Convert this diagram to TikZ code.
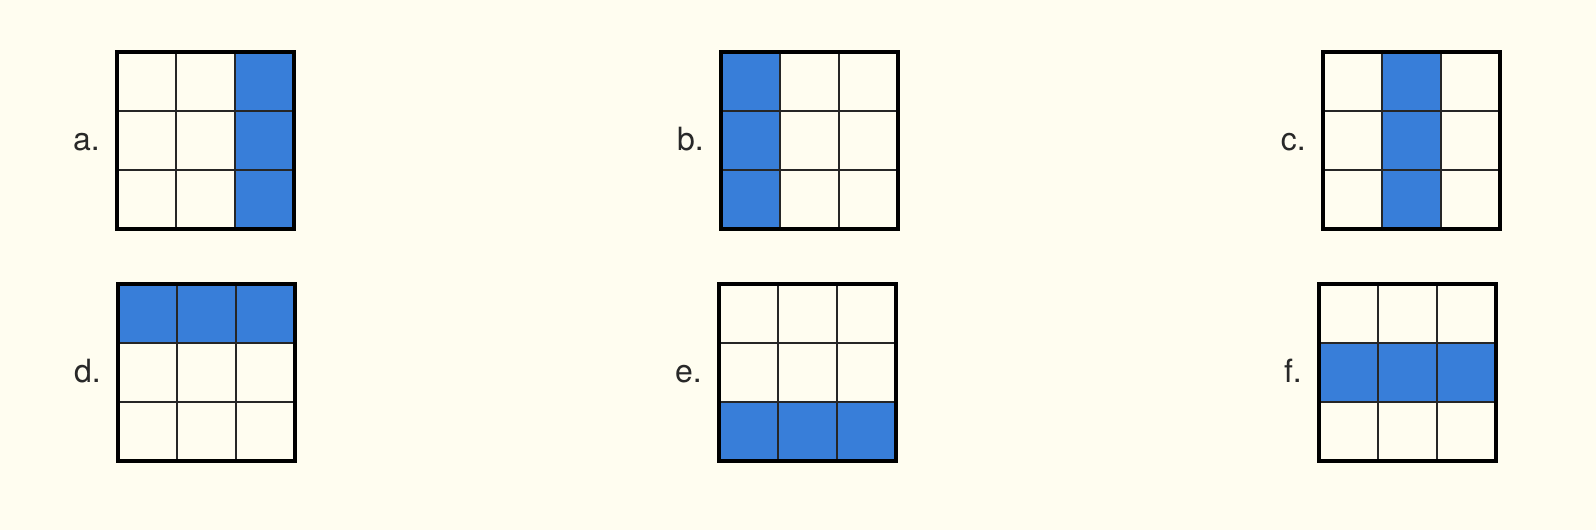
\documentclass[tikz,border=0pt]{standalone}
\usepackage{fontspec}
\setmainfont{TeX Gyre Heros}
\usepackage{tikz}
\definecolor{bgcream}{RGB}{255,253,240}
\definecolor{cellblue}{RGB}{56,126,217}
\definecolor{labelgray}{RGB}{40,40,40}

\begin{document}
\begin{tikzpicture}[x=1pt, y=-1pt,
	every node/.style={font=\fontsize{32}{38}\selectfont, text=labelgray, inner sep=0pt},
	gridline/.style={line width=1.5pt, black!85},
	gridframe/.style={line width=4pt, black}]
	\fill[bgcream] (0,0) rectangle (1596,530);
	\foreach \x/\y/\lbl/\fx/\fy/\fw/\fh in {117/52/a/118/0/59/177, 721/52/b/0/0/59/177, 1323/52/c/59/0/59/177, 118/284/d/0/0/177/59, 719/284/e/0/118/177/59, 1319/284/f/0/59/177/59}{
		\fill[cellblue] (\x+\fx,\y+\fy) rectangle ++(\fw,\fh);
		\draw[gridline] (\x+59,\y) -- ++(0,177) (\x+118,\y) -- ++(0,177)
			(\x,\y+59) -- ++(177,0) (\x,\y+118) -- ++(177,0);
		\draw[gridframe] (\x,\y) rectangle ++(177,177);
		\node[anchor=base east] (lbl-\lbl) at (\x-17,\y+98.5) {\lbl.};
	}
\end{tikzpicture}
\end{document}
